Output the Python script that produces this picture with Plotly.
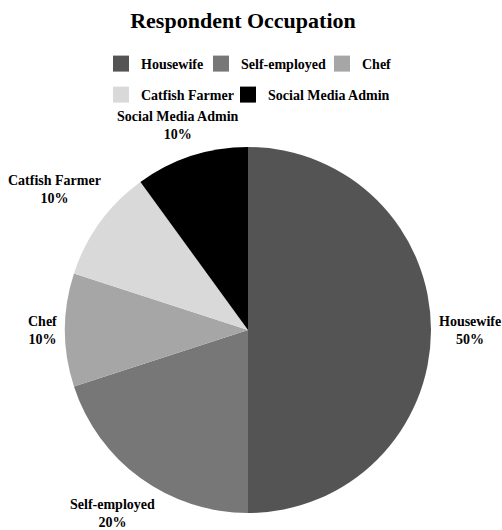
import math
import plotly.graph_objects as go

# Survey breakdown of respondent occupations
occupations = ["Housewife", "Self-employed", "Chef", "Catfish Farmer", "Social Media Admin"]
respondents = [5, 2, 1, 1, 1]
slice_colors = ["#545454", "#777777", "#a6a6a6", "#d9d9d9", "#000000"]

W, H = 502, 530
ML, MR = 65, 71
PW, PH = W - ML - MR, H
serif = "Liberation Serif"
FONT_PX = 14

# pie placement (px): centre and radius follow from the domain below
PIE_TOP, PIE_BOTTOM = 147, 513
PIE_CX = ML + PW / 2
PIE_CY = (PIE_TOP + PIE_BOTTOM) / 2
PIE_R = (PIE_BOTTOM - PIE_TOP) / 2

# legend entry placement (px): left edge of swatch and top of entry
legend_left = [112, 212, 333, 112, 239]
legend_top = [48, 48, 48, 79, 79]


def px_to_paper(px, py):
    return (px - ML) / PW, 1 - py / PH


fig = go.Figure()

fig.add_trace(go.Pie(
    labels=occupations,
    values=respondents,
    sort=False,
    direction="clockwise",
    rotation=0,
    marker=dict(colors=slice_colors, line=dict(width=0)),
    textinfo="none",
    showlegend=False,
    hoverinfo="label+percent",
    domain=dict(x=[0, 1], y=[1 - PIE_BOTTOM / H, 1 - PIE_TOP / H]),
))

# Outside labels: each box sits just beyond the rim along its slice's mid-angle
total = sum(respondents)
cum = 0
annotations = []
for name, v in zip(occupations, respondents):
    mid = (cum + v / 2) / total * 2 * math.pi
    cum += v
    ux, uy = math.sin(mid), -math.cos(mid)
    pct = f"{round(v / total * 100)}%"
    half_w = 0.5 * 0.48 * FONT_PX * max(len(name), len(pct))
    half_h = 15
    dist = PIE_R + 9 + half_w * abs(ux) + half_h * abs(uy)
    cx = PIE_CX + dist * ux
    cy = PIE_CY + dist * uy
    cy = min(max(cy, 110 + half_h), H - 2 - half_h)
    x, y = px_to_paper(cx, cy)
    annotations.append(dict(
        x=x, y=y, xref="paper", yref="paper",
        text=f"{name}<br>{pct}", showarrow=False,
        xanchor="center", yanchor="middle", align="center",
        font=dict(family=serif, size=FONT_PX, color="black", weight="bold"),
    ))

legend_font = dict(family=serif, size=FONT_PX, color="black", weight="bold")
legends = {}
for i, (name, color) in enumerate(zip(occupations, slice_colors)):
    key = "legend" if i == 0 else f"legend{i + 1}"
    fig.add_trace(go.Scatter(
        x=[None], y=[None], mode="markers",
        marker=dict(symbol="square", size=16, color=color),
        name=name,
        legend=key,
        hoverinfo="skip",
    ))
    lx, ly = px_to_paper(legend_left[i] - 11, legend_top[i])
    legends[key] = dict(
        orientation="h", font=legend_font,
        x=lx, xanchor="left",
        y=ly, yanchor="top",
        bgcolor="rgba(0,0,0,0)",
    )

fig.update_layout(
    width=W, height=H,
    margin=dict(l=ML, r=MR, t=0, b=0, autoexpand=False),
    paper_bgcolor="white",
    plot_bgcolor="white",
    xaxis=dict(visible=False),
    yaxis=dict(visible=False),
    title=dict(
        text="Respondent Occupation",
        font=dict(family=serif, size=22, color="black", weight="bold"),
        x=243 / W, xanchor="center",
        y=1 - 20 / H, yanchor="middle",
        xref="container", yref="container",
    ),
    annotations=annotations,
    **legends,
)

fig.write_html("out.html")
